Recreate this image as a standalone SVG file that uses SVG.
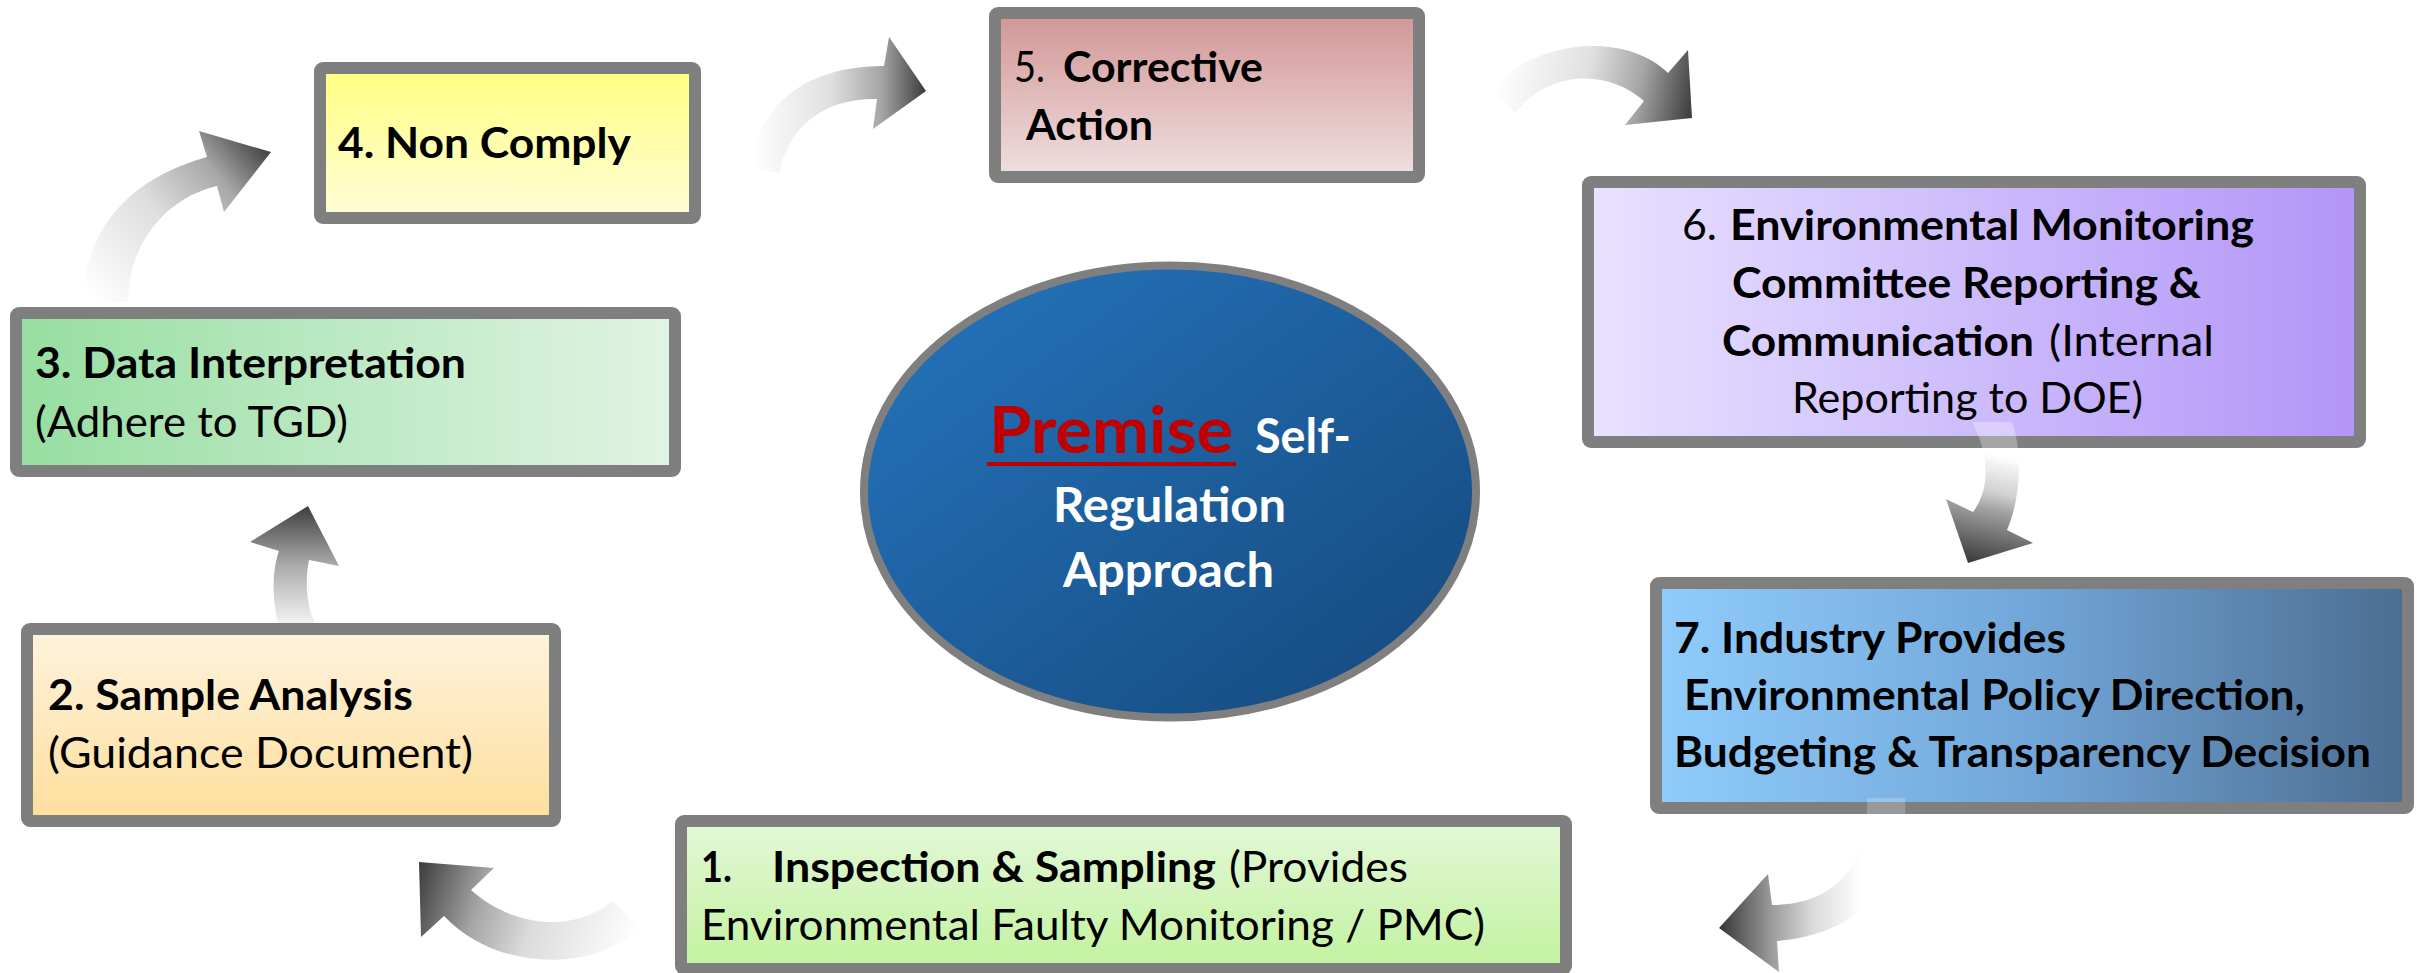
<svg xmlns="http://www.w3.org/2000/svg" width="2417" height="973" viewBox="0 0 2417 973">
<style>
.box { stroke: #7f7f7f; stroke-width: 12; }
.t { font-family: Lato, "Liberation Sans", "DejaVu Sans", sans-serif; font-size: 42px; fill: #000; font-weight: 400; }
.b { font-weight: 700; }
.w { fill: #fff; font-size: 47px; font-weight: 700; }
</style>
<defs>
<linearGradient id="g1" x1="0" y1="0" x2="0" y2="1"><stop offset="0" stop-color="#E3F8D8"/><stop offset="1" stop-color="#C2F29E"/></linearGradient>
<linearGradient id="g2" x1="0" y1="0" x2="0" y2="1"><stop offset="0" stop-color="#FFF3DE"/><stop offset="1" stop-color="#FDDF9C"/></linearGradient>
<linearGradient id="g3" x1="0" y1="0" x2="1" y2="0"><stop offset="0" stop-color="#96DEA1"/><stop offset="1" stop-color="#E2F4E4"/></linearGradient>
<linearGradient id="g4" x1="0" y1="0" x2="0" y2="1"><stop offset="0" stop-color="#FFFF7F"/><stop offset="1" stop-color="#FFFDD8"/></linearGradient>
<linearGradient id="g5" x1="0" y1="0" x2="0" y2="1"><stop offset="0" stop-color="#D29595"/><stop offset="1" stop-color="#F0E0E0"/></linearGradient>
<linearGradient id="g6" x1="0" y1="0" x2="1" y2="0"><stop offset="0" stop-color="#E8E2FF"/><stop offset="1" stop-color="#B295F8"/></linearGradient>
<linearGradient id="g7" x1="0" y1="0" x2="1" y2="0"><stop offset="0" stop-color="#8FCCFC"/><stop offset="0.5" stop-color="#72A6D8"/><stop offset="1" stop-color="#4B6D91"/></linearGradient>
<linearGradient id="ge" x1="0" y1="0" x2="1" y2="1"><stop offset="0" stop-color="#2576BF"/><stop offset="1" stop-color="#15477B"/></linearGradient>
<linearGradient id="a34" gradientUnits="userSpaceOnUse" x1="95" y1="300" x2="271" y2="150"><stop offset="0" stop-color="#fff"/><stop offset="0.45" stop-color="#dedede"/><stop offset="0.75" stop-color="#a8a8a8"/><stop offset="1" stop-color="#3e3e3e"/></linearGradient>
<linearGradient id="a45" gradientUnits="userSpaceOnUse" x1="752" y1="100" x2="926" y2="100"><stop offset="0" stop-color="#fff"/><stop offset="0.45" stop-color="#e0e0e0"/><stop offset="0.75" stop-color="#a4a4a4"/><stop offset="1" stop-color="#3a3a3a"/></linearGradient>
<linearGradient id="a56" gradientUnits="userSpaceOnUse" x1="1495" y1="80" x2="1692" y2="118"><stop offset="0" stop-color="#fff"/><stop offset="0.45" stop-color="#e0e0e0"/><stop offset="0.72" stop-color="#a4a4a4"/><stop offset="1" stop-color="#3a3a3a"/></linearGradient>
<linearGradient id="a67" gradientUnits="userSpaceOnUse" x1="2000" y1="418" x2="1968" y2="563"><stop offset="0" stop-color="#fff" stop-opacity="0.3"/><stop offset="0.24" stop-color="#fff" stop-opacity="0.3"/><stop offset="0.3" stop-color="#f4f4f4"/><stop offset="0.5" stop-color="#d0d0d0"/><stop offset="0.62" stop-color="#a0a0a0"/><stop offset="1" stop-color="#383838"/></linearGradient>
<linearGradient id="a71" gradientUnits="userSpaceOnUse" x1="1905" y1="850" x2="1719" y2="850"><stop offset="0" stop-color="#fff" stop-opacity="0.2"/><stop offset="0.22" stop-color="#fff" stop-opacity="0.2"/><stop offset="0.3" stop-color="#f6f6f6"/><stop offset="0.5" stop-color="#dadada"/><stop offset="0.72" stop-color="#9a9a9a"/><stop offset="1" stop-color="#363636"/></linearGradient>
<linearGradient id="a12" gradientUnits="userSpaceOnUse" x1="640" y1="930" x2="419" y2="862"><stop offset="0" stop-color="#fff"/><stop offset="0.45" stop-color="#dcdcdc"/><stop offset="0.7" stop-color="#a6a6a6"/><stop offset="1" stop-color="#3c3c3c"/></linearGradient>
<linearGradient id="a23" gradientUnits="userSpaceOnUse" x1="300" y1="623" x2="300" y2="506"><stop offset="0" stop-color="#f2f2f2"/><stop offset="0.5" stop-color="#aaaaaa"/><stop offset="1" stop-color="#3e3e3e"/></linearGradient>
</defs>
<rect width="2417" height="973" fill="#fff"/>

<g id="center">
<ellipse cx="1170" cy="491.5" rx="306" ry="226" fill="url(#ge)" stroke="#7f7f7f" stroke-width="8"/>
<text class="t b" x="989" y="453" style="fill:#C00000;font-size:65px" textLength="244" lengthAdjust="spacingAndGlyphs">Premise</text>
<rect x="987" y="462" width="249" height="4" fill="#C00000"/>
<text class="t w" x="1255" y="453" textLength="96" lengthAdjust="spacingAndGlyphs">Self-</text>
<text class="t w" x="1053" y="522" textLength="233" lengthAdjust="spacingAndGlyphs">Regulation</text>
<text class="t w" x="1063" y="587" textLength="211" lengthAdjust="spacingAndGlyphs">Approach</text>
</g>

<g id="node1">
<rect class="box" x="681" y="821" width="885" height="148" rx="3" fill="url(#g1)"/>
<text class="t b" x="701" y="882" textLength="31" lengthAdjust="spacingAndGlyphs">1.</text>
<text class="t b" x="772" y="882" textLength="444" lengthAdjust="spacingAndGlyphs">Inspection &amp; Sampling</text>
<text class="t" x="1229" y="882" textLength="179" lengthAdjust="spacingAndGlyphs">(Provides</text>
<text class="t" x="701" y="940" textLength="784" lengthAdjust="spacingAndGlyphs">Environmental Faulty Monitoring / PMC)</text>
</g>

<g id="node2">
<rect class="box" x="27" y="629" width="528" height="192" rx="3" fill="url(#g2)"/>
<text class="t b" x="48" y="710" textLength="365" lengthAdjust="spacingAndGlyphs">2. Sample Analysis</text>
<text class="t" x="48" y="768" textLength="425" lengthAdjust="spacingAndGlyphs">(Guidance Document)</text>
</g>

<g id="node3">
<rect class="box" x="16" y="313" width="659" height="158" rx="3" fill="url(#g3)"/>
<text class="t b" x="35" y="378" textLength="431" lengthAdjust="spacingAndGlyphs">3. Data Interpretation</text>
<text class="t" x="35" y="437" textLength="313" lengthAdjust="spacingAndGlyphs">(Adhere to TGD)</text>
</g>

<g id="node4">
<rect class="box" x="320" y="68" width="375" height="150" rx="3" fill="url(#g4)"/>
<text class="t b" x="338" y="158" textLength="293" lengthAdjust="spacingAndGlyphs">4. Non Comply</text>
</g>

<g id="node5">
<rect class="box" x="995" y="13" width="424" height="164" rx="3" fill="url(#g5)"/>
<text class="t" x="1014" y="82" textLength="31" lengthAdjust="spacingAndGlyphs">5.</text>
<text class="t b" x="1063" y="82" textLength="200" lengthAdjust="spacingAndGlyphs">Corrective</text>
<text class="t b" x="1026" y="140" textLength="127" lengthAdjust="spacingAndGlyphs">Action</text>
</g>

<g id="node6">
<rect class="box" x="1588" y="182" width="772" height="260" rx="3" fill="url(#g6)"/>
<text class="t" x="1682" y="240" textLength="35" lengthAdjust="spacingAndGlyphs">6.</text>
<text class="t b" x="1730" y="240" textLength="524" lengthAdjust="spacingAndGlyphs">Environmental Monitoring</text>
<text class="t b" x="1732" y="298" textLength="469" lengthAdjust="spacingAndGlyphs">Committee Reporting &amp;</text>
<text class="t b" x="1722" y="356" textLength="312" lengthAdjust="spacingAndGlyphs">Communication</text>
<text class="t" x="2049" y="356" textLength="165" lengthAdjust="spacingAndGlyphs">(Internal</text>
<text class="t" x="1792" y="413" textLength="351" lengthAdjust="spacingAndGlyphs">Reporting to DOE)</text>
</g>

<g id="node7">
<rect class="box" x="1656" y="583" width="752" height="225" rx="3" fill="url(#g7)"/>
<text class="t b" x="1674" y="653" textLength="392" lengthAdjust="spacingAndGlyphs">7. Industry Provides</text>
<text class="t b" x="1684" y="710" textLength="621" lengthAdjust="spacingAndGlyphs">Environmental Policy Direction,</text>
<text class="t b" x="1674" y="767" textLength="697" lengthAdjust="spacingAndGlyphs">Budgeting &amp; Transparency Decision</text>
</g>

<g id="connectors">
<path id="c12" d="M 613,901 C 570,935 510,925 471,890 L 494,868 L 419,862 L 421,937 L 444,916 C 500,975 600,970 640,927 Z" fill="url(#a12)"/>
<path id="c23" d="M 278,623 C 272,600 272,570 279,551 L 250,542 L 308,506 L 339,566 L 309,560 C 305,580 306,605 315,623 Z" fill="url(#a23)"/>
<path id="c34" d="M 83,304 C 83,230 130,178 207,157 L 199,131 L 271,152 L 224,212 L 217,186 C 165,198 128,245 128,302 Z" fill="url(#a34)"/>
<path id="c45" d="M 749,167 C 760,100 810,66 884,66 L 889,37 L 926,91 L 873,129 L 877,99 C 820,98 788,130 779,173 Z" fill="url(#a45)"/>
<path id="c56" d="M 1493,90 C 1530,40 1625,30 1668,73 L 1688,50 L 1692,118 L 1625,125 L 1644,101 C 1610,70 1550,68 1515,113 Z" fill="url(#a56)"/>
<path id="c67" d="M 1972,422 C 1990,455 1990,490 1973,512 L 1946,499 L 1968,563 L 2033,543 L 2007,530 C 2022,495 2022,450 2012,422 Z" fill="url(#a67)"/>
<path id="c71" d="M 1867,798 C 1870,870 1830,905 1772,905 L 1768,874 L 1719,928 L 1779,972 L 1777,941 C 1860,935 1910,880 1905,798 Z" fill="url(#a71)"/>
</g>
</svg>
